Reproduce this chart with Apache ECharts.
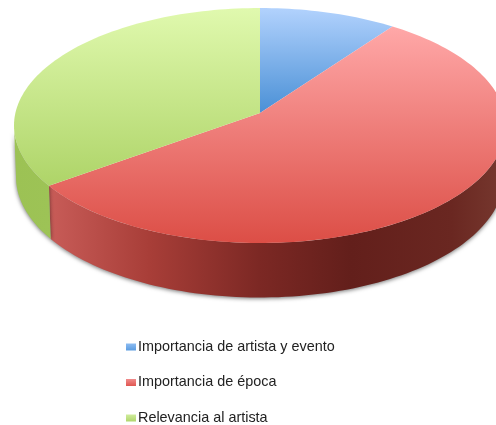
<!DOCTYPE html>
<html>
<head>
<meta charset="utf-8">
<style>html,body{margin:0;padding:0;background:#fff}#chart{width:496px;height:425px}</style>
<script src="https://cdn.jsdelivr.net/npm/echarts@6/dist/echarts.min.js"></script>
</head>
<body>
<div id="chart"></div>
<script>
// Categories and shares (percent) of the pie
const categories = ['Importancia de artista y evento', 'Importancia de época', 'Relevancia al artista'];
const shares = [10, 55, 35];

const TOP = { cx: 260, cy: 125.5, rx: 246, ry: 117.5 };
const BOTTOM = { cx: 260, cy: 177, rx: 244, ry: 120.5 };
const TILT = 0.106; // perspective: shifts the pie's centre up inside the ellipse
const TOTAL = shares.reduce((a, b) => a + b, 0);

// Maps an angle (degrees clockwise from 12 o'clock) and radius on the disc to the screen
function project(e, deg, r) {
  const t = deg * Math.PI / 180;
  const u = r * Math.sin(t), v = r * Math.cos(t);
  const d = 1 + TILT * v;
  return [e.cx + e.rx * u * Math.sqrt(1 - TILT * TILT) / d, e.cy - e.ry * (v + TILT) / d];
}
function arc(e, a0, a1) {
  const n = Math.max(2, Math.ceil(Math.abs(a1 - a0) / 1.5));
  const pts = [];
  for (let i = 0; i <= n; i++) pts.push(project(e, a0 + (a1 - a0) * i / n, 1));
  return pts;
}
const vert = stops => ({ type: 'linear', x: 0, y: 0, x2: 0, y2: 1, colorStops: stops });
const horz = stops => ({ type: 'linear', x: 0, y: 0, x2: 1, y2: 0, colorStops: stops });

const faceFill = [
  vert([{ offset: 0, color: '#b2d2fd' }, { offset: 1, color: '#4a90d6' }]),
  vert([{ offset: 0, color: '#ffa8a8' }, { offset: 1, color: '#dc4e46' }]),
  vert([{ offset: 0, color: '#e0f9ae' }, { offset: 1, color: '#aed468' }])
];
const wallFill = [
  null,
  horz([
    { offset: 0, color: '#c85c58' }, { offset: 0.22, color: '#a83e38' },
    { offset: 0.46, color: '#7c2824' }, { offset: 0.66, color: '#631f1b' },
    { offset: 0.88, color: '#6a2721' }, { offset: 1, color: '#77392f' }
  ]),
  horz([{ offset: 0, color: '#9cc254' }, { offset: 1, color: '#9dc356' }])
];
const swatchFill = [
  vert([{ offset: 0, color: '#8dbcf2' }, { offset: 1, color: '#5b9ce0' }]),
  vert([{ offset: 0, color: '#f08c8c' }, { offset: 1, color: '#e05650' }]),
  vert([{ offset: 0, color: '#d0ec9c' }, { offset: 1, color: '#b0d66c' }])
];

// Visible stretch of the side wall, ending where the rim turns away from the viewer
function wallRange(a0, a1) {
  return [Math.max(a0, 96), Math.min(a1, 264)];
}

const startOf = i => shares.slice(0, i).reduce((a, b) => a + b, 0) / TOTAL * 360;

const makeSeries = (name, i) => ({
  name,
  type: 'custom',
  coordinateSystem: 'none',
  silent: true,
  z: 2,
  itemStyle: { color: swatchFill[i] },
  data: [[shares[i]]],
  renderItem: (params, api) => {
    const a0 = startOf(i);
    const a1 = a0 + api.value(0) / TOTAL * 360;
    const children = [];
    const [w0, w1] = wallRange(a0, a1);
    if (wallFill[i] && w1 > w0) {
      const wall = arc(TOP, w0, w1).concat(arc(BOTTOM, w0, w1).reverse());
      children.push({
        type: 'polygon',
        z2: 1,
        shape: { points: wall },
        style: { fill: wallFill[i], shadowColor: 'rgba(0,0,0,0.55)', shadowBlur: 4, shadowOffsetY: 1 }
      });
    }
    const face = [project(TOP, 0, 0)].concat(arc(TOP, a0, a1));
    children.push({ type: 'polygon', z2: 2, shape: { points: face }, style: { fill: faceFill[i] } });
    return { type: 'group', children };
  }
});

const chart = echarts.init(document.getElementById('chart'), null, { renderer: 'canvas' });
chart.setOption({
  animation: false,
  backgroundColor: '#ffffff',
  legend: {
    orient: 'vertical',
    left: 126,
    top: 340,
    padding: 0,
    itemWidth: 10,
    itemHeight: 7,
    itemGap: 21.5,
    icon: 'rect',
    data: categories,
    selectedMode: false,
    textStyle: { fontFamily: 'Liberation Sans', fontSize: 14.4, color: '#222222', padding: [0, 0, 0, -3] }
  },
  series: categories.map(makeSeries)
});
</script>
</body>
</html>
